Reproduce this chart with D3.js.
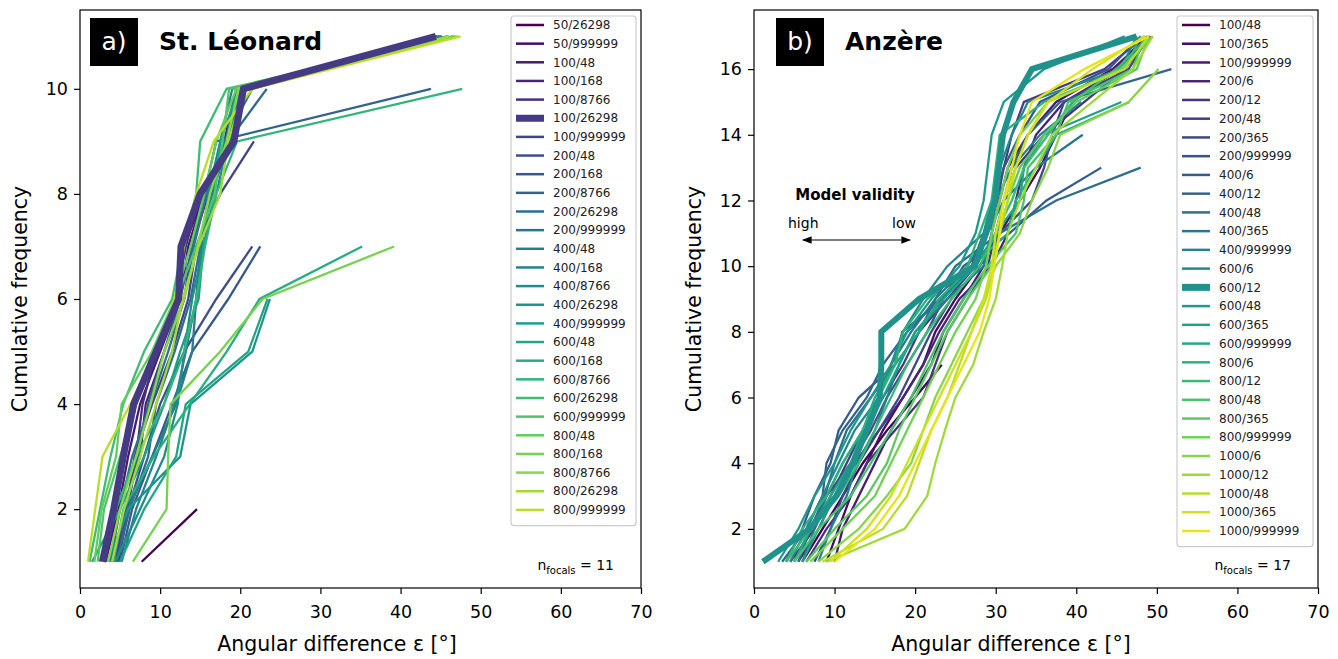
<!DOCTYPE html>
<html>
<head>
<meta charset="utf-8">
<script src="https://cdn.jsdelivr.net/npm/d3@7"></script>
<style>
  body { margin: 0; background: #fff; }
  text { font-family: "DejaVu Sans", sans-serif; }
</style>
</head>
<body>
<svg id="fig" width="1338" height="659"></svg>
<script>
/* data: x = angular difference for cumulative count 1..n */

// panel a) St. Léonard
var leoNames = ["50/26298", "50/999999", "100/48", "100/168", "100/8766", "100/26298",
    "100/999999", "200/48", "200/168", "200/8766", "200/26298", "200/999999",
    "400/48", "400/168", "400/8766", "400/26298", "400/999999", "600/48", "600/168",
    "600/8766", "600/26298", "600/999999", "800/48", "800/168", "800/8766",
    "800/26298", "800/999999"];
var leoSeries = [
    [7.7, 14.6],
    [3.0, 4.5, 5.5, 7.0, 9.5, 12.0, 13.0, 15.5, 19.0, 20.5, 44.5],
    [3.2, 4.8, 6.0, 7.5, 10.0, 12.5, 13.5, 15.5, 18.5, 20.0, 44.8],
    [4.5, 5.5, 7.5, 8.2, 10.5, 13.0, 14.0, 16.0, 18.0, 19.5, 45.0],
    [4.8, 6.0, 7.0, 7.8, 9.5, 12.0, 13.2, 15.0, 18.8, 20.2, 44.6],
    [2.8, 4.2, 5.4, 6.7, 9.5, 12.3, 12.6, 15.0, 19.2, 20.4, 44.4],
    [4.2, 5.8, 6.8, 9.0, 11.5, 13.5, 14.5, 17.5, 21.7],
    [4.5, 6.0, 8.0, 10.0, 13.0, 17.0, 21.5],
    [5.0, 6.5, 9.0, 11.5, 14.0, 18.5, 22.5],
    [4.0, 5.8, 7.2, 8.5, 10.5, 12.5, 14.0, 15.5, 17.0, 43.8],
    [4.6, 6.2, 8.5, 9.5, 11.8, 13.8, 15.0, 16.5, 18.5, 23.3],
    [3.8, 5.0, 6.5, 8.8, 11.0, 13.0, 14.2, 15.8, 18.0, 21.5, 45.2],
    [3.5, 6.0, 9.0, 12.0, 14.0, 14.5, 15.0, 16.5, 18.2, 19.5, 45.8],
    [5.2, 7.0, 9.5, 11.8, 13.2, 14.5, 15.2, 16.0, 17.5, 19.0, 45.0],
    [4.4, 7.5, 10.5, 12.2, 13.0, 14.0, 15.4, 17.0, 18.5, 20.0, 46.0],
    [3.5, 6.0, 12.5, 13.8, 21.5, 23.7],
    [1.5, 5.0, 8.0, 10.5, 12.5, 14.8, 15.4, 16.8, 17.5, 19.8, 46.5],
    [5.0, 8.0, 12.0, 13.2, 21.0, 23.4],
    [4.2, 5.4, 9.2, 13.7, 18.3, 22.4, 35.2],
    [2.5, 4.5, 7.0, 10.5, 13.0, 14.5, 15.6, 17.0, 19.6, 47.7],
    [1.2, 2.5, 3.8, 5.4, 8.0, 11.5, 12.8, 14.5, 15.0, 18.3, 46.8],
    [2.2, 3.0, 5.0, 7.0, 9.0, 12.0, 14.5, 16.8, 17.8, 18.6, 47.0],
    [1.8, 2.7, 4.5, 5.2, 9.0, 11.8, 13.8, 15.5, 17.0, 19.5, 46.6],
    [6.6, 10.8, 11.0, 11.3, 17.5, 22.8, 39.2],
    [3.5, 5.0, 7.0, 8.8, 10.5, 13.0, 14.7, 16.2, 18.3, 19.8, 47.2],
    [4.0, 5.5, 7.5, 9.5, 11.5, 12.8, 14.8, 17.5, 18.5, 20.6, 46.0],
    [1.0, 1.9, 2.8, 6.3, 9.5, 11.8, 13.0, 14.5, 16.7, 21.5, 47.5]
];
var leoBold = "100/26298";

// panel b) Anzère
var anzNames = ["100/48", "100/365", "100/999999", "200/6", "200/12", "200/48",
    "200/365", "200/999999", "400/6", "400/12", "400/48", "400/365", "400/999999",
    "600/6", "600/12", "600/48", "600/365", "600/999999", "800/6", "800/12", "800/48",
    "800/365", "800/999999", "1000/6", "1000/12", "1000/48", "1000/365", "1000/999999"];
var anzSeries = [
    [6.0, 8.5, 11.0, 13.5, 16.5, 20.0, 23.3],
    [9.0, 10.5, 12.0, 14.0, 16.0, 18.5, 21.0, 22.5, 25.0, 28.0, 30.5, 33.0, 35.5, 37.5, 39.5, 45.0, 48.5],
    [10.0, 11.0, 13.0, 15.0, 17.0, 19.5, 22.0, 23.5, 26.0, 28.5, 29.5, 30.5, 31.5, 34.0, 37.5, 44.5, 49.0],
    [5.5, 8.0, 10.0, 12.5, 15.5, 18.5, 21.0, 23.0, 25.5, 29.5, 31.5, 32.5, 33.5, 35.0, 38.5, 45.5, 48.8],
    [6.5, 9.0, 12.0, 14.0, 17.5, 21.0, 22.5, 24.0, 26.5, 29.0, 30.0, 31.0, 32.5, 36.0, 41.0, 46.0, 49.2],
    [4.5, 7.5, 9.5, 11.5, 13.5, 16.0, 18.5, 20.5, 24.0, 27.5, 29.0, 30.2, 31.0, 32.0, 33.5, 43.5, 48.5],
    [7.5, 9.5, 11.0, 13.0, 15.5, 18.0, 20.0, 22.0, 24.5, 28.0, 30.5, 34.5, 36.0, 37.0, 38.5, 46.5, 49.0],
    [5.0, 7.0, 9.0, 12.0, 14.5, 16.5, 19.0, 21.5, 23.5, 27.0, 28.5, 29.8, 31.0, 33.0, 35.5, 44.0, 48.0],
    [4.0, 6.0, 7.5, 9.5, 10.5, 13.0, 17.5, 18.4, 23.4, 26.0, 31.7, 36.3, 43.1],
    [3.5, 6.5, 8.5, 9.0, 11.0, 14.0, 16.0, 19.0, 23.0, 27.5, 30.0, 31.0, 32.0, 34.0, 38.0, 51.8],
    [5.5, 7.0, 8.8, 10.0, 11.5, 14.5, 17.5, 20.5, 22.5, 25.0, 30.5, 37.5, 48.0],
    [6.0, 7.5, 9.0, 11.0, 13.5, 15.5, 17.0, 19.5, 22.5, 26.5, 29.0, 31.0, 35.0, 40.8],
    [8.0, 9.5, 11.5, 12.8, 15.0, 16.5, 18.0, 20.0, 24.0, 28.5, 29.5, 30.0, 32.0, 35.5, 40.6],
    [4.5, 6.5, 8.5, 10.5, 12.5, 15.5, 17.0, 18.5, 21.0, 24.0, 28.5, 29.5, 30.5, 32.0, 34.0, 45.5, 47.5],
    [1.1, 6.9, 10.2, 12.3, 14.0, 15.6, 15.8, 15.8, 20.5, 27.4, 28.8, 29.9, 30.4, 30.9, 32.2, 34.5, 47.5],
    [3.0, 5.5, 7.5, 10.0, 12.0, 14.5, 17.0, 19.0, 22.0, 25.5, 27.5, 28.5, 29.0, 29.5, 31.0, 36.0, 46.0],
    [6.0, 8.0, 10.0, 12.5, 14.0, 16.0, 18.0, 20.0, 23.5, 27.5, 30.0, 33.0, 33.5, 36.0, 45.6],
    [5.0, 7.0, 9.5, 12.0, 13.5, 15.0, 17.5, 20.5, 23.0, 27.0, 31.5, 32.5, 35.0, 37.5, 46.6],
    [4.0, 6.0, 9.0, 11.0, 13.5, 15.5, 17.5, 18.5, 21.5, 26.5, 28.0, 29.5, 30.0, 30.5, 36.0, 46.0, 48.0],
    [4.0, 7.0, 10.5, 13.0, 15.0, 17.0, 19.0, 21.5, 24.5, 28.0, 30.0, 32.0, 33.5, 36.5, 39.5, 45.0, 49.0],
    [5.0, 8.0, 12.0, 14.5, 17.0, 19.5, 21.5, 23.5, 26.0, 29.0, 32.5, 33.5, 34.0, 37.5, 39.0, 47.0, 48.5],
    [6.5, 10.0, 14.0, 16.5, 18.0, 20.0, 22.0, 24.0, 26.5, 29.5, 30.5, 31.5, 33.0, 36.0, 40.0, 47.5, 49.0],
    [7.0, 11.0, 15.0, 17.0, 19.0, 21.0, 23.0, 25.0, 27.5, 28.8, 29.5, 30.5, 31.5, 33.0, 36.5, 45.5, 49.5],
    [8.0, 13.0, 16.5, 19.5, 21.0, 22.5, 24.5, 26.5, 28.5, 30.0, 33.0, 34.5, 36.5, 38.0, 46.5, 50.2],
    [9.0, 18.7, 21.5, 22.5, 23.7, 25.0, 27.2, 28.5, 30.0, 30.8, 31.5, 33.0, 35.0, 37.0, 42.0, 47.0, 49.5],
    [8.5, 16.0, 19.0, 20.5, 22.0, 24.0, 25.5, 27.0, 28.8, 29.8, 30.5, 31.5, 32.5, 34.0, 36.5, 46.0, 49.0],
    [9.5, 14.0, 17.0, 19.0, 21.0, 23.0, 25.0, 27.0, 28.5, 29.5, 30.0, 31.0, 32.5, 34.0, 36.5, 42.0, 48.5],
    [10.0, 15.0, 18.0, 20.0, 22.0, 24.0, 26.0, 28.0, 29.2, 29.8, 30.5, 31.0, 32.0, 33.0, 34.5, 41.0, 49.0]
];
var anzBold = "600/12";

var xTicks = [0, 10, 20, 30, 40, 50, 60, 70];
var leoYTicks = [2, 4, 6, 8, 10];
var anzYTicks = [2, 4, 6, 8, 10, 12, 14, 16];

var svg = d3.select("#fig");
svg.append("defs").append("marker")
    .attr("id", "arr").attr("viewBox", "0 0 10 10")
    .attr("refX", 9).attr("refY", 5)
    .attr("markerWidth", 9).attr("markerHeight", 8)
    .attr("orient", "auto-start-reverse")
    .append("path").attr("d", "M0,1 L10,5 L0,9 Z").attr("fill", "#000");

var drawPanel = function (p) {
    let top = 10, bottom = 588;
    let x = d3.scaleLinear().domain([0, 70]).range([p.left, p.right]);
    let y = d3.scaleLinear().domain(p.yDom).range([bottom, top]);
    let color = i => d3.interpolateViridis(i / p.cDiv);

    let g = svg.append("g");
    let clipId = "clip" + p.key;
    g.append("clipPath").attr("id", clipId).append("rect")
        .attr("x", p.left).attr("y", top)
        .attr("width", p.right - p.left).attr("height", bottom - top);

    let line = d3.line().x(d => x(d[0])).y(d => y(d[1]));
    let rows = p.series.map((s, i) => ({
        name: p.names[i],
        i: i,
        pts: s.map((v, k) => [v, k + 1])
    }));
    // the highlighted run goes on top
    let order = rows.filter(d => d.name != p.bold).concat(rows.filter(d => d.name == p.bold));
    g.append("g").attr("clip-path", "url(#" + clipId + ")")
        .selectAll("path").data(order).join("path")
        .attr("d", d => line(d.pts))
        .attr("fill", "none")
        .attr("stroke", d => color(d.i))
        .attr("stroke-width", d => d.name == p.bold ? p.boldW : 2.3)
        .attr("stroke-linejoin", "miter");

    // axes
    let styleTicks = a => {
        a.select(".domain").remove();
        a.selectAll("line").attr("stroke-width", 1.2);
        a.selectAll("text").attr("font-size", 17.5).attr("fill", "#000")
            .attr("font-family", "DejaVu Sans");
    };
    g.append("g").attr("transform", "translate(0," + bottom + ")")
        .call(d3.axisBottom(x).tickValues(xTicks).tickSize(6).tickPadding(12))
        .call(styleTicks);
    g.append("g").attr("transform", "translate(" + p.left + ",0)")
        .call(d3.axisLeft(y).tickValues(p.yTicks).tickSize(6).tickPadding(6))
        .call(styleTicks);
    g.append("rect").attr("x", p.left).attr("y", top)
        .attr("width", p.right - p.left).attr("height", bottom - top)
        .attr("fill", "none").attr("stroke", "#000").attr("stroke-width", 1.2);

    g.append("text").attr("x", p.labelX).attr("y", 651)
        .attr("text-anchor", "middle").attr("font-size", 20.5)
        .text("Angular difference ε [°]");
    g.append("text")
        .attr("transform", "translate(" + (p.left - 53) + "," + (top + bottom) / 2 + ") rotate(-90)")
        .attr("text-anchor", "middle").attr("font-size", 20.5)
        .text("Cumulative frequency");

    // panel tag and site name
    g.append("rect").attr("x", p.tagX).attr("y", 18).attr("width", 48).attr("height", 48)
        .attr("fill", "#000");
    g.append("text").attr("x", p.tagX + 24).attr("y", 50).attr("text-anchor", "middle")
        .attr("fill", "#fff").attr("font-size", 25)
        .attr("font-family", "Liberation Sans, Arial, sans-serif")
        .text(p.tag);
    g.append("text").attr("x", p.titleX).attr("y", 50)
        .attr("font-size", 25).attr("font-weight", "bold")
        .attr("font-family", "Liberation Sans, Arial, sans-serif")
        .text(p.title);

    // legend
    let lg = g.append("g");
    let step = p.legStep;
    lg.append("rect").attr("x", p.legX).attr("y", 16)
        .attr("width", p.legW).attr("height", step * rows.length + 6)
        .attr("fill", "#fff").attr("fill-opacity", 0.8)
        .attr("stroke", "#ccc").attr("stroke-width", 1.2).attr("rx", 3);
    let items = lg.selectAll(".item").data(rows).join("g").attr("class", "item")
        .attr("transform", (d, i) => "translate(" + p.legX + "," + (25 + i * step) + ")");
    items.append("line").attr("x1", 5).attr("x2", 33).attr("y1", 0).attr("y2", 0)
        .attr("stroke", d => color(d.i))
        .attr("stroke-width", d => d.name == p.bold ? 7 : 2.5);
    items.append("text").attr("x", 42).attr("y", 4.2).attr("font-size", 12)
        .attr("fill", "#222").text(d => d.name);

    // n focals
    let nt = g.append("text").attr("x", p.right - 27).attr("y", 570)
        .attr("text-anchor", "end").attr("font-size", 14)
        .attr("font-family", "Liberation Sans, Arial, sans-serif");
    nt.append("tspan").text("n");
    nt.append("tspan").attr("font-size", 10).attr("dy", 4).text("focals");
    nt.append("tspan").attr("dy", -4).text(" = " + p.series.reduce((m, s) => Math.max(m, s.length), 0));
    return { x: x, y: y, g: g };
};

drawPanel({
    key: "a", left: 80, right: 641, yDom: [0.5, 11.5], yTicks: leoYTicks,
    series: leoSeries, names: leoNames, bold: leoBold, boldW: 7, cDiv: 29,
    tag: "a)", tagX: 90, title: "St. Léonard", titleX: 159, labelX: 337,
    legX: 511, legW: 125, legStep: 18.65
});

var pb = drawPanel({
    key: "b", left: 754, right: 1318, yDom: [0.2, 17.8], yTicks: anzYTicks,
    series: anzSeries, names: anzNames, bold: anzBold, boldW: 6, cDiv: 28,
    tag: "b)", tagX: 776, title: "Anzère", titleX: 845, labelX: 1011,
    legX: 1177, legW: 136, legStep: 18.74
});

// model validity annotation
var ann = pb.g.append("g").attr("font-family", "Liberation Sans, Arial, sans-serif");
ann.append("text").attr("x", 855).attr("y", 200).attr("text-anchor", "middle")
    .attr("font-size", 15).attr("font-weight", "bold").text("Model validity");
ann.append("text").attr("x", 788).attr("y", 228).attr("font-size", 14).text("high");
ann.append("text").attr("x", 892).attr("y", 228).attr("font-size", 14).text("low");
ann.append("line").attr("x1", 803).attr("x2", 910).attr("y1", 240).attr("y2", 240)
    .attr("stroke", "#000").attr("stroke-width", 1.2)
    .attr("marker-start", "url(#arr)").attr("marker-end", "url(#arr)");
</script>
</body>
</html>
